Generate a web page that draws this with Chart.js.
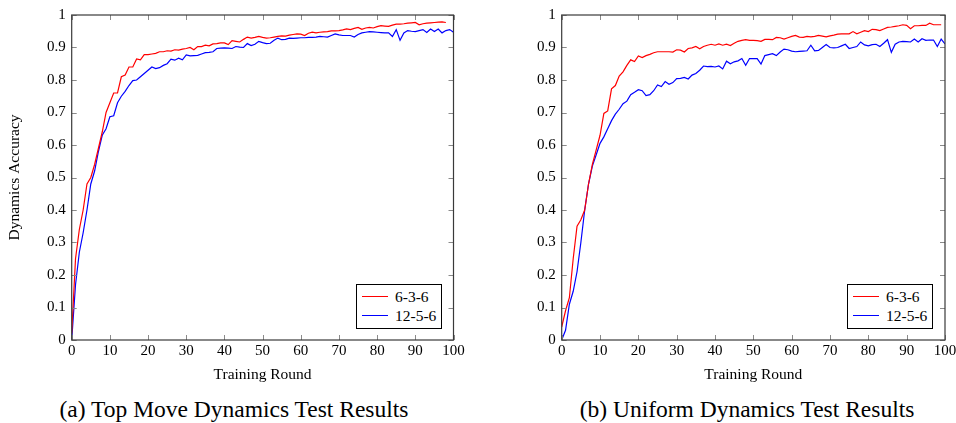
<!DOCTYPE html>
<html>
<head>
<meta charset="utf-8">
<script src="https://cdn.jsdelivr.net/npm/chart.js@4.4.0/dist/chart.umd.min.js"></script>
<style>
html, body { margin: 0; padding: 0; background: #fff; }
body { position: relative; width: 956px; height: 423px; overflow: hidden; font-family: "Liberation Serif", "Times New Roman", serif; }
canvas { position: absolute; top: 0; }
.legend { position: absolute; top: 284px; width: 84px; height: 43px; border: 1px solid #000; background: #fff; font-size: 15.5px; padding-top: 0; box-sizing: content-box; }
.legend .row { display: flex; align-items: center; height: 19px; margin-top: 2px; }
.legend .row + .row { margin-top: 0; }
.legend .swatch { width: 26px; height: 0; margin-left: 5px; margin-right: 7px; }
.caption { position: absolute; top: 396px; font-size: 23.5px; white-space: nowrap; transform: translateX(-50%); }
</style>
</head>
<body>
<canvas id="grafA" width="478" height="384" style="left:0px"></canvas>
<canvas id="grafB" width="478" height="384" style="left:490px"></canvas>
<div class="legend" id="legendA" style="left:356px"></div>
<div class="legend" id="legendB" style="left:847px"></div>
<div class="caption" style="left:234px">(a) Top Move Dynamics Test Results</div>
<div class="caption" style="left:747px">(b) Uniform Dynamics Test Results</div>

<script>
// accuracy per training round (index = round)
var nomesSeries = ["6-3-6", "12-5-6"];
var coresSeries = ["#ff0000", "#0000ff"];

var topMove636 = [0.02, 0.25, 0.34, 0.40, 0.48, 0.50, 0.54, 0.59, 0.64, 0.70,
    0.73, 0.76, 0.76, 0.81, 0.815, 0.84, 0.84, 0.865, 0.862, 0.878,
    0.878, 0.88, 0.882, 0.887, 0.887, 0.89, 0.889, 0.893, 0.892, 0.895,
    0.897, 0.90, 0.893, 0.903, 0.903, 0.907, 0.905, 0.911, 0.912, 0.914,
    0.914, 0.909, 0.921, 0.919, 0.917, 0.925, 0.932, 0.929, 0.931, 0.934,
    0.931, 0.929, 0.93, 0.932, 0.934, 0.936, 0.935, 0.938, 0.94, 0.942,
    0.941, 0.937, 0.944, 0.947, 0.945, 0.947, 0.948, 0.949, 0.951, 0.951,
    0.952, 0.954, 0.957, 0.955, 0.959, 0.962, 0.956, 0.96, 0.962, 0.96,
    0.964, 0.967, 0.966, 0.965, 0.969, 0.972, 0.972, 0.973, 0.975, 0.976,
    0.977, 0.97, 0.973, 0.975, 0.976, 0.977, 0.978, 0.979, 0.977];

var topMove1256 = [0.0, 0.17, 0.27, 0.33, 0.40, 0.48, 0.52, 0.58, 0.63, 0.65,
    0.687, 0.69, 0.73, 0.75, 0.765, 0.783, 0.798, 0.80, 0.81, 0.82,
    0.83, 0.84, 0.835, 0.838, 0.845, 0.85, 0.864, 0.861, 0.867, 0.862,
    0.877, 0.874, 0.875, 0.876, 0.88, 0.884, 0.885, 0.887, 0.897, 0.898,
    0.899, 0.898, 0.897, 0.903, 0.901, 0.90, 0.912, 0.906, 0.91, 0.919,
    0.915, 0.912, 0.913, 0.922, 0.929, 0.924, 0.925, 0.929, 0.928, 0.929,
    0.93, 0.93, 0.931, 0.931, 0.932, 0.934, 0.933, 0.932, 0.937, 0.942,
    0.939, 0.937, 0.937, 0.937, 0.932, 0.94, 0.945, 0.947, 0.949, 0.948,
    0.947, 0.946, 0.945, 0.945, 0.934, 0.955, 0.922, 0.945, 0.952, 0.95,
    0.949, 0.952, 0.955, 0.946, 0.957, 0.949, 0.957, 0.945, 0.952, 0.955,
    0.947];

var uniform636 = [0.04, 0.09, 0.13, 0.25, 0.35, 0.37, 0.40, 0.48, 0.54, 0.585,
    0.63, 0.697, 0.705, 0.773, 0.783, 0.812, 0.825, 0.845, 0.862, 0.857,
    0.874, 0.869, 0.875, 0.879, 0.884, 0.887, 0.887, 0.887, 0.887, 0.886,
    0.893, 0.892, 0.886, 0.897, 0.899, 0.903, 0.896, 0.903, 0.907, 0.91,
    0.907, 0.911, 0.907, 0.91, 0.906, 0.913, 0.919, 0.922, 0.924, 0.922,
    0.922, 0.921, 0.919, 0.925, 0.925, 0.924, 0.931, 0.93, 0.926, 0.93,
    0.934, 0.937, 0.932, 0.931, 0.934, 0.933, 0.934, 0.937, 0.935, 0.933,
    0.936, 0.938, 0.941, 0.942, 0.942, 0.942, 0.949, 0.942, 0.947, 0.952,
    0.949, 0.956, 0.955, 0.952, 0.957, 0.962, 0.963, 0.965, 0.967, 0.97,
    0.968, 0.958, 0.967, 0.967, 0.968, 0.968, 0.975, 0.97, 0.97, 0.97];

var uniform1256 = [0.0, 0.03, 0.11, 0.15, 0.21, 0.30, 0.40, 0.48, 0.535, 0.57,
    0.605, 0.625, 0.65, 0.675, 0.695, 0.71, 0.727, 0.735, 0.755, 0.762,
    0.77, 0.767, 0.752, 0.755, 0.767, 0.785, 0.78, 0.795, 0.787, 0.792,
    0.804, 0.805, 0.808, 0.803, 0.815, 0.82, 0.83, 0.843, 0.841, 0.842,
    0.84, 0.843, 0.834, 0.858, 0.85, 0.856, 0.859, 0.866, 0.845, 0.866,
    0.866, 0.866, 0.849, 0.875, 0.878, 0.881, 0.875, 0.886, 0.895, 0.893,
    0.889, 0.887, 0.888, 0.889, 0.89, 0.907, 0.89, 0.891, 0.90, 0.909,
    0.90, 0.899, 0.90, 0.905, 0.91, 0.897, 0.90, 0.903, 0.917, 0.908,
    0.905, 0.909, 0.91, 0.903, 0.913, 0.924, 0.885, 0.91, 0.917, 0.919,
    0.918, 0.917, 0.926, 0.917, 0.927, 0.922, 0.923, 0.923, 0.903, 0.926,
    0.911];

var xTicks = [0, 10, 20, 30, 40, 50, 60, 70, 80, 90, 100];
var yTicks = [0, 0.1, 0.2, 0.3, 0.4, 0.5, 0.6, 0.7, 0.8, 0.9, 1];
var yTickLabels = ["0", "0.1", "0.2", "0.3", "0.4", "0.5", "0.6", "0.7", "0.8", "0.9", "1"];
var tituloX = "Training Round";
var tituloY = "Dynamics Accuracy";

var fonte = "'Liberation Serif', 'Times New Roman', serif";

// frame + inward ticks like pgfplots
var moldura = {
    id: "moldura",
    afterDraw: function (chart) {
        var ctx = chart.ctx;
        var a = chart.chartArea;
        var sx = chart.scales.x;
        var sy = chart.scales.y;
        ctx.save();
        ctx.strokeStyle = "#8a8a8a";
        ctx.lineWidth = 1;
        ctx.beginPath();
        sx.ticks.forEach(function (t) {
            var px = Math.round(sx.getPixelForValue(t.value)) + 0.5;
            ctx.moveTo(px, a.bottom); ctx.lineTo(px, a.bottom - 5);
            ctx.moveTo(px, a.top); ctx.lineTo(px, a.top + 5);
        });
        sy.ticks.forEach(function (t) {
            var py = Math.round(sy.getPixelForValue(t.value)) + 0.5;
            ctx.moveTo(a.left, py); ctx.lineTo(a.left + 5, py);
            ctx.moveTo(a.right, py); ctx.lineTo(a.right - 5, py);
        });
        ctx.stroke();
        ctx.strokeStyle = "#3a3a3a";
        ctx.lineWidth = 1.2;
        ctx.strokeRect(a.left, a.top, a.right - a.left, a.bottom - a.top);
        ctx.restore();
    }
};

function pontos(valores) {
    var lista = [];
    for (var i = 0; i < valores.length; i++) {
        lista.push({ x: i, y: valores[i] });
    }
    return lista;
}

function criarGrafico(id, vermelho, azul, mostrarTituloY, padDireita) {
    return new Chart(document.getElementById(id), {
        type: "line",
        data: {
            datasets: [
                { label: nomesSeries[0], data: pontos(vermelho), borderColor: coresSeries[0], borderWidth: 1.2, pointRadius: 0, tension: 0, fill: false },
                { label: nomesSeries[1], data: pontos(azul), borderColor: coresSeries[1], borderWidth: 1.2, pointRadius: 0, tension: 0, fill: false }
            ]
        },
        options: {
            responsive: false,
            animation: false,
            layout: { padding: { top: 10, right: padDireita, left: 0, bottom: 0 } },
            plugins: { legend: { display: false }, tooltip: { enabled: false } },
            scales: {
                x: {
                    type: "linear",
                    min: 0,
                    max: 100,
                    afterBuildTicks: function (s) { s.ticks = xTicks.map(function (v) { return { value: v }; }); },
                    afterFit: function (s) { s.height = 44; },
                    grid: { display: false, drawTicks: false },
                    border: { display: false },
                    ticks: { padding: 2, color: "#000", maxRotation: 0, autoSkip: false, font: { family: fonte, size: 15 } },
                    title: { display: true, text: tituloX, color: "#000", padding: { top: 0, bottom: 0 }, font: { family: fonte, size: 15.5 } }
                },
                y: {
                    min: 0,
                    max: 1,
                    afterBuildTicks: function (s) { s.ticks = yTicks.map(function (v) { return { value: v }; }); },
                    afterFit: function (s) { s.width = 71.7; },
                    grid: { display: false, drawTicks: false },
                    border: { display: false },
                    ticks: {
                        padding: 6, color: "#000", autoSkip: false, font: { family: fonte, size: 15 },
                        callback: function (v, i) { return yTickLabels[i]; }
                    },
                    title: { display: mostrarTituloY, text: tituloY, color: "#000", padding: { top: 6, bottom: 0 }, font: { family: fonte, size: 15.5 } }
                }
            }
        },
        plugins: [moldura]
    });
}

criarGrafico("grafA", topMove636, topMove1256, true, 24.5);
criarGrafico("grafB", uniform636, uniform1256, false, 23);

function montarLegenda(id) {
    var div = document.getElementById(id);
    var html = "";
    for (var i = 0; i < nomesSeries.length; i++) {
        html += '<div class="row"><span class="swatch" style="border-top:1.3px solid ' + coresSeries[i] + '"></span>' + nomesSeries[i] + '</div>';
    }
    div.innerHTML = html;
}
montarLegenda("legendA");
montarLegenda("legendB");
</script>
</body>
</html>
